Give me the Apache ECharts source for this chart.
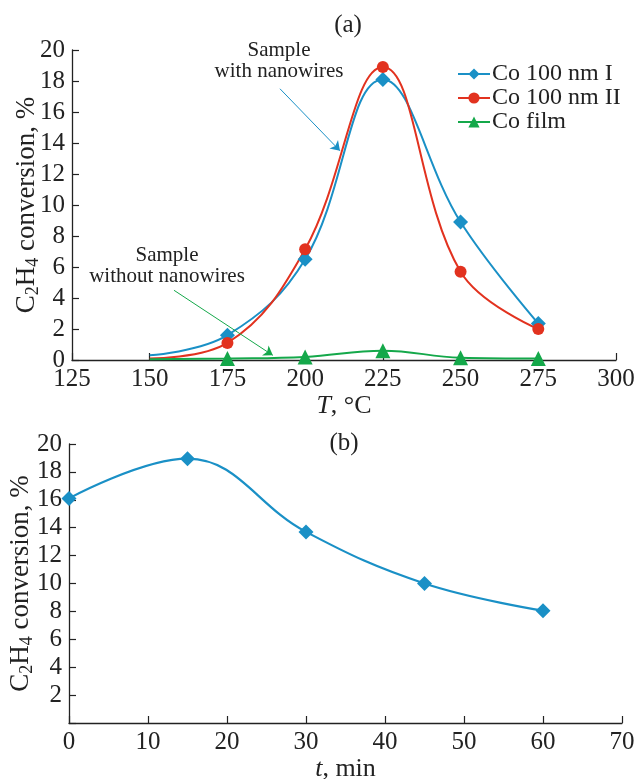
<!DOCTYPE html>
<html>
<head>
<meta charset="utf-8">
<script src="https://cdn.jsdelivr.net/npm/echarts@6/dist/echarts.min.js"></script>
<style>
  html, body { margin: 0; padding: 0; background: #fff; }
  #chart { width: 639px; height: 779px; }
</style>
</head>
<body>
<div id="chart"></div>
<script>
// panel (a): conversion vs temperature
const tempC = [150, 175, 200, 225, 250, 275]
const co100nmI = [0.3, 1.6, 6.5, 18.1, 8.9, 2.35]
const co100nmII = [0.1, 1.1, 7.15, 18.9, 5.7, 2.0]
const coFilm = [0.05, 0.1, 0.2, 0.6, 0.15, 0.1]

// panel (b): conversion vs time
const timeMin = [0, 15, 30, 45, 60]
const convTime = [16.1, 18.95, 13.7, 10.0, 8.05]

// annotation arrows, in data units of panel (a)
const arrowWith = [[191.9, 17.5], [211.2, 13.5]]
const arrowWithout = [[157.8, 4.5], [189.6, 0.3]]

const BLUE = '#1a90c6'
const RED = '#e2321f'
const GREEN = '#14a84a'
const INK = '#222'
const FONT = '"Liberation Serif", "DejaVu Serif", serif'

// first point (150 °C) drawn without a marker
const pts = (xs, ys) => xs.map((x, i) => i === 0 ? { value: [x, ys[i]], symbol: 'none' } : [x, ys[i]])

const axisBase = {
  axisLine: { lineStyle: { color: INK, width: 1.3 } },
  axisTick: { inside: true, length: 7, lineStyle: { color: INK, width: 1.2 } },
  axisLabel: { color: INK, fontFamily: FONT, fontSize: 25, margin: 7 },
  splitLine: { show: false },
}

const yName = {
  name: '{n|C}{s|2}{n|H}{s|4}{n| conversion, %}',
  nameLocation: 'middle',
  nameRotate: 90,
  nameMoveOverlap: false,
  nameTextStyle: {
    fontFamily: FONT, color: INK,
    rich: {
      n: { fontFamily: FONT, fontSize: 27, color: INK, lineHeight: 30 },
      s: { fontFamily: FONT, fontSize: 18, color: INK, lineHeight: 30, verticalAlign: 'bottom', padding: [12, 0, 0, 0] },
    },
  },
}

const arrow = (color, pair) => ({
  silent: true, symbol: ['none', 'arrow'], symbolSize: 9,
  lineStyle: { color, width: 1, type: 'solid' }, label: { show: false },
  data: [[{ coord: pair[0] }, { coord: pair[1] }]],
})

const chart = echarts.init(document.getElementById('chart'))
chart.setOption({
  animation: false,
  textStyle: { fontFamily: FONT },
  title: [
    { text: '(a)', left: 343, top: 8, textAlign: 'center', textStyle: { fontFamily: FONT, fontSize: 25, fontWeight: 'normal', color: INK } },
    { text: '(b)', left: 339, top: 426, textAlign: 'center', textStyle: { fontFamily: FONT, fontSize: 25, fontWeight: 'normal', color: INK } },
  ],
  legend: {
    orient: 'vertical',
    left: 452, top: 57,
    itemWidth: 32, itemHeight: 14, itemGap: 0,
    textStyle: { fontFamily: FONT, fontSize: 24, color: INK, lineHeight: 21, padding: [0, 0, 0, -3] },
    data: ['Co 100 nm I', 'Co 100 nm II', 'Co film'],
  },
  grid: [
    { left: 72, right: 23, top: 50, height: 310, outerBoundsMode: 'none', containLabel: false },
    { left: 69, right: 17, top: 444, height: 279, outerBoundsMode: 'none', containLabel: false },
  ],
  xAxis: [
    {
      ...axisBase, gridIndex: 0, type: 'value', min: 125, max: 300, interval: 25,
      name: '{i|T}, °C', nameLocation: 'middle', nameGap: 33,
      nameTextStyle: { fontFamily: FONT, fontSize: 26, color: INK, rich: { i: { fontFamily: FONT, fontSize: 26, fontStyle: 'italic', color: INK } } },
    },
    {
      ...axisBase, gridIndex: 1, type: 'value', min: 0, max: 70, interval: 10,
      name: '{i|t}, min', nameLocation: 'middle', nameGap: 33,
      nameTextStyle: { fontFamily: FONT, fontSize: 26, color: INK, rich: { i: { fontFamily: FONT, fontSize: 26, fontStyle: 'italic', color: INK } } },
    },
  ],
  yAxis: [
    { ...axisBase, ...yName, gridIndex: 0, type: 'value', min: 0, max: 20, interval: 2, nameGap: 30 },
    {
      ...axisBase, ...yName, gridIndex: 1, type: 'value', min: 0, max: 20, interval: 2, nameGap: 33,
      axisLabel: { ...axisBase.axisLabel, formatter: (v) => v === 0 ? '' : v },
    },
  ],
  graphic: [
    {
      type: 'text', x: 279, y: 40,
      style: { text: 'Sample\nwith nanowires', font: '21px ' + FONT, fill: INK, align: 'center', lineHeight: 21 },
    },
    {
      type: 'text', x: 167, y: 245,
      style: { text: 'Sample\nwithout nanowires', font: '21px ' + FONT, fill: INK, align: 'center', lineHeight: 21 },
    },
  ],
  series: [
    {
      name: 'Co 100 nm I', type: 'line', xAxisIndex: 0, yAxisIndex: 0,
      data: pts(tempC, co100nmI), smooth: 0.4,
      symbol: 'diamond', symbolSize: 15,
      lineStyle: { color: BLUE, width: 2 }, itemStyle: { color: BLUE },
      markLine: arrow(BLUE, arrowWith),
    },
    {
      name: 'Co 100 nm II', type: 'line', xAxisIndex: 0, yAxisIndex: 0,
      data: pts(tempC, co100nmII), smooth: 0.4,
      symbol: 'circle', symbolSize: 12,
      lineStyle: { color: RED, width: 2 }, itemStyle: { color: RED },
    },
    {
      name: 'Co film', type: 'line', xAxisIndex: 0, yAxisIndex: 0,
      data: pts(tempC, coFilm), smooth: 0.4,
      symbol: 'triangle', symbolSize: 15,
      lineStyle: { color: GREEN, width: 2 }, itemStyle: { color: GREEN },
      markLine: arrow(GREEN, arrowWithout),
    },
    {
      name: 'time', type: 'line', xAxisIndex: 1, yAxisIndex: 1,
      data: timeMin.map((t, i) => [t, convTime[i]]), smooth: 0.4,
      symbol: 'diamond', symbolSize: 15,
      lineStyle: { color: BLUE, width: 2.2 }, itemStyle: { color: BLUE },
    },
  ],
})
window.addEventListener('resize', () => chart.resize())
</script>
</body>
</html>
